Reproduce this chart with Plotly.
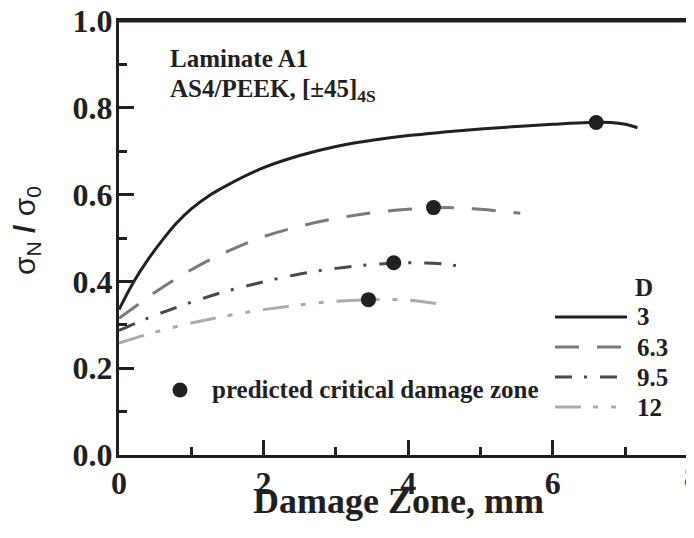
import plotly.graph_objects as go

# ---------------- data ----------------
x_D3 = [0, 0.2, 0.4, 0.6, 0.8, 1.0, 1.25, 1.5, 2.0, 2.5, 3.0, 3.5, 4.0, 4.5, 5.0, 5.5, 6.0, 6.5, 6.8, 7.0, 7.17]
y_D3 = [0.335, 0.398, 0.45, 0.495, 0.535, 0.567, 0.598, 0.622, 0.662, 0.69, 0.711, 0.725, 0.736, 0.744, 0.751, 0.757, 0.762, 0.766, 0.766, 0.762, 0.754]

x_D63 = [0, 0.25, 0.5, 1.0, 1.5, 2.0, 2.5, 3.0, 3.5, 4.0, 4.5, 5.0, 5.55]
y_D63 = [0.315, 0.345, 0.375, 0.427, 0.469, 0.503, 0.527, 0.545, 0.558, 0.566, 0.570, 0.566, 0.557]

x_D95 = [0, 0.25, 0.5, 1.0, 1.5, 2.0, 2.5, 3.0, 3.5, 4.0, 4.5, 4.78]
y_D95 = [0.287, 0.305, 0.322, 0.352, 0.378, 0.399, 0.417, 0.430, 0.439, 0.443, 0.440, 0.433]

x_D12 = [0, 0.5, 1.0, 1.5, 2.0, 2.5, 3.0, 3.5, 4.0, 4.5]
y_D12 = [0.258, 0.283, 0.304, 0.321, 0.335, 0.346, 0.354, 0.358, 0.357, 0.346]

critical_x = [6.60, 4.35, 3.80, 3.45]
critical_y = [0.766, 0.570, 0.443, 0.358]

legend_labels = ["3", "6.3", "9.5", "12"]
x_ticks = [0, 2, 4, 6]
x_tick_text = ["0", "2", "4", "6"]
y_ticks = [0.0, 0.2, 0.4, 0.6, 0.8, 1.0]

# ---------------- styling ----------------
OFF = 8                     # default page (body) margin of the html page
W, H = 694 - OFF, 538 - 2 * OFF
ML, MR, MT, MB = 111, 0, 13, 75
PW, PH = W - ML - MR, H - MT - MB
XSCALE = 72.3  # px per unit on x
X_MAX = PW / XSCALE

BLACK = "#231f20"
colors = [BLACK, "#7a7a7a", "#4a4a4a", "#ababab"]
dashes = ["solid", "24px,18px", "17px,12px,3px,13px", "26px,12px,5px,13px,5px,13px"]
SERIF = "Liberation Serif, Times New Roman, serif"
SANS = "Liberation Sans, Arial, sans-serif"


def px(xp):  # page pixel -> paper x
    return (xp - OFF - ML) / PW


def py(yp):  # page pixel -> paper y
    return (H - MB - (yp - OFF)) / PH


fig = go.Figure()

series = [(x_D3, y_D3), (x_D63, y_D63), (x_D95, y_D95), (x_D12, y_D12)]
for (xs, ys), c, d, lab in zip(series, colors, dashes, legend_labels):
    fig.add_trace(go.Scatter(x=xs, y=ys, mode="lines", line=dict(color=c, width=3, dash=d, shape="spline"),
                             name=lab, showlegend=False, hoverinfo="skip"))

fig.add_trace(go.Scatter(x=critical_x, y=critical_y, mode="markers",
                         marker=dict(color=BLACK, size=15), showlegend=False, hoverinfo="skip"))

annotations = []
shapes = []

# top frame line
shapes.append(dict(type="line", xref="paper", yref="paper", x0=0, x1=1, y0=1, y1=1,
                   line=dict(color=BLACK, width=3)))

# legend marker for predicted critical damage zone
fig.add_trace(go.Scatter(x=[(180 - OFF - ML) / XSCALE], y=[py(390)], mode="markers",
                         marker=dict(color=BLACK, size=15), showlegend=False, hoverinfo="skip"))
annotations.append(dict(text="<b>predicted critical damage zone</b>", x=px(210), y=py(389),
                        xref="paper", yref="paper", xanchor="left", yanchor="middle", showarrow=False,
                        font=dict(family=SERIF, size=25, color=BLACK)))

annotations.append(dict(text="<b>Laminate A1</b>", x=px(168), y=py(59), xref="paper", yref="paper",
                        xanchor="left", yanchor="middle", showarrow=False,
                        font=dict(family=SERIF, size=25, color=BLACK)))
annotations.append(dict(text="<b>AS4/PEEK, [±45]<sub>4S</sub></b>", x=px(168), y=py(91), xref="paper", yref="paper",
                        xanchor="left", yanchor="middle", showarrow=False,
                        font=dict(family=SERIF, size=25, color=BLACK)))

# legend D
annotations.append(dict(text="<b>D</b>", x=px(633), y=py(287), xref="paper", yref="paper",
                        xanchor="left", yanchor="middle", showarrow=False,
                        font=dict(family=SERIF, size=25, color=BLACK)))
leg_y = [317, 347, 377, 407]
for lab, ly, c, d in zip(legend_labels, leg_y, colors, dashes):
    shapes.append(dict(type="line", xref="paper", yref="paper", x0=px(555), x1=px(627), y0=py(ly), y1=py(ly),
                       line=dict(color=c, width=3, dash=d)))
    annotations.append(dict(text="<b>%s</b>" % lab, x=px(635), y=py(ly), xref="paper", yref="paper",
                            xanchor="left", yanchor="middle", showarrow=False,
                            font=dict(family=SERIF, size=25, color=BLACK)))

# axis titles
annotations.append(dict(text="<b>Damage Zone, mm</b>", x=px(398), y=py(501), xref="paper", yref="paper",
                        xanchor="center", yanchor="middle", showarrow=False,
                        font=dict(family=SERIF, size=36, color=BLACK)))
annotations.append(dict(text="σ<sub>N</sub> <b>/</b> σ<sub>0</sub>", x=px(26), y=py(231), xref="paper", yref="paper",
                        xanchor="center", yanchor="middle", showarrow=False, textangle=-90,
                        font=dict(family=SANS, size=30, color=BLACK)))
# cropped "8" tick label at the right edge of the picture
annotations.append(dict(text="<b>8</b>", x=px(692), y=py(477), xref="paper", yref="paper",
                        xanchor="center", yanchor="middle", showarrow=False,
                        font=dict(family=SERIF, size=32, color=BLACK)))

fig.update_layout(
    template="none",
    width=W, height=H, margin=dict(l=ML, r=MR, t=MT, b=MB, pad=0),
    paper_bgcolor="white", plot_bgcolor="white",
    annotations=annotations, shapes=shapes,
    xaxis=dict(range=[0, X_MAX], automargin=False, showgrid=False, zeroline=False, showline=True, linewidth=3,
               linecolor=BLACK, mirror=True, ticks="inside", ticklen=15, tickwidth=2.5, tickcolor=BLACK,
               tickvals=x_ticks, ticktext=["<b>%s</b>" % t for t in x_tick_text], ticklabelstandoff=-2,
               ticklabeloverflow="allow", tickfont=dict(family=SERIF, size=32, color=BLACK),
               minor=dict(ticks="inside", ticklen=8, tickwidth=2.5, tickcolor=BLACK, dtick=1, tick0=0)),
    yaxis=dict(range=[0, 1], automargin=False, showgrid=False, zeroline=False, showline=True, linewidth=3,
               linecolor=BLACK, ticks="inside", ticklen=15, tickwidth=2.5, tickcolor=BLACK,
               tickvals=y_ticks, ticktext=["<b>%.1f</b>" % v for v in y_ticks], ticklabelstandoff=-3,
               ticklabeloverflow="allow", tickfont=dict(family=SERIF, size=32, color=BLACK),
               minor=dict(ticks="inside", ticklen=8, tickwidth=2.5, tickcolor=BLACK, dtick=0.1, tick0=0)),
)

fig.write_html("out.html")
